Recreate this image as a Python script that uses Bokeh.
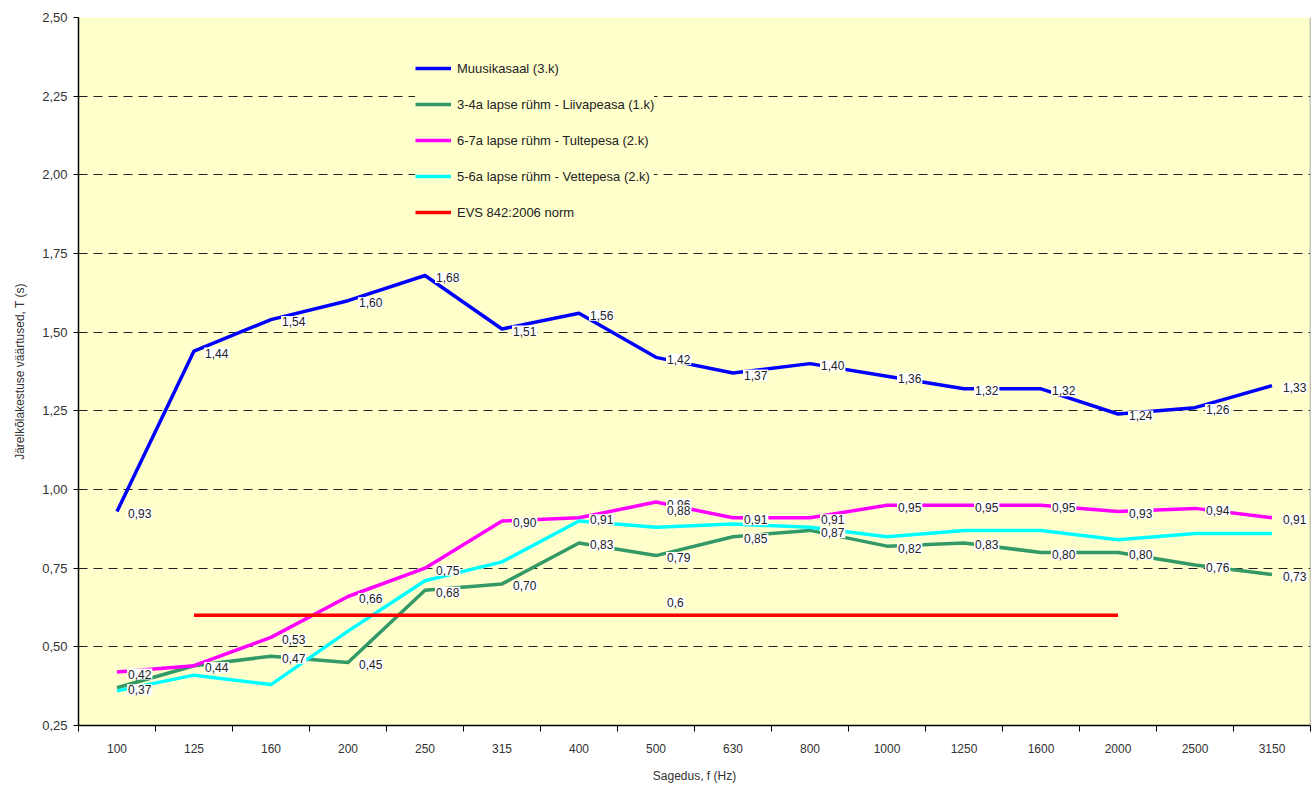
from bokeh.plotting import figure
from bokeh.models import (ColumnDataSource, FixedTicker, Legend,
                          LegendItem, Span, Range1d)
from bokeh.core.properties import value
from bokeh.embed import file_html
from bokeh.resources import INLINE

# ---------------- data ----------------
freqs = ["100", "125", "160", "200", "250", "315", "400", "500", "630", "800",
         "1000", "1250", "1600", "2000", "2500", "3150"]
muusikasaal = [0.93, 1.44, 1.54, 1.60, 1.68, 1.51, 1.56, 1.42, 1.37, 1.40,
               1.36, 1.32, 1.32, 1.24, 1.26, 1.33]
liivapeasa = [0.37, 0.44, 0.47, 0.45, 0.68, 0.70, 0.83, 0.79, 0.85, 0.87,
              0.82, 0.83, 0.80, 0.80, 0.76, 0.73]
tultepesa = [0.42, 0.44, 0.53, 0.66, 0.75, 0.90, 0.91, 0.96, 0.91, 0.91,
             0.95, 0.95, 0.95, 0.93, 0.94, 0.91]
vettepesa = [0.36, 0.41, 0.38, 0.55, 0.71, 0.77, 0.90, 0.88, 0.89, 0.88,
             0.85, 0.87, 0.87, 0.84, 0.86, 0.86]
vettepesa_labelled = ["500"]
norm_value = 0.6
norm_freqs = ["125", "2000"]
norm_label_freq = "500"
y_ticks = [0.25, 0.50, 0.75, 1.00, 1.25, 1.50, 1.75, 2.00, 2.25, 2.50]

series_names = ["Muusikasaal (3.k)", "3-4a lapse rühm - Liivapeasa (1.k)",
                "6-7a lapse rühm - Tultepesa (2.k)", "5-6a lapse rühm - Vettepesa (2.k)",
                "EVS 842:2006 norm"]
colors = ["#0000FF", "#339966", "#FF00FF", "#00FFFF", "#FF0000"]

FONT = "Liberation Sans"
BG = "#FFFFCC"


def fmt(v, nd=2):
    return f"{v:.{nd}f}".replace(".", ",")


def xpos(f):
    return freqs.index(f) + 0.5


xs = [xpos(f) for f in freqs]

p = figure(width=1311, height=785, output_backend="svg", toolbar_location=None,
           x_range=Range1d(0, len(freqs)), y_range=Range1d(0.25, 2.5),
           min_border_left=78, min_border_right=1, min_border_top=17,
           min_border_bottom=60)
p.background_fill_color = BG
p.border_fill_color = "white"
p.outline_line_color = None

# axes
p.xaxis.ticker = FixedTicker(ticks=xs, minor_ticks=list(range(len(freqs) + 1)))
p.xaxis.major_label_overrides = {x: f for x, f in zip(xs, freqs)}
p.xaxis.major_tick_out = 0
p.xaxis.major_tick_in = 0
p.xaxis.minor_tick_out = 6
p.xaxis.minor_tick_in = 0
p.xaxis.major_label_standoff = 12
p.xaxis.axis_label = "Sagedus, f (Hz)"
p.xaxis.axis_label_standoff = 13

p.yaxis.ticker = FixedTicker(ticks=y_ticks)
p.yaxis.major_label_overrides = {t: fmt(t) for t in y_ticks}
p.yaxis.major_tick_out = 5
p.yaxis.major_tick_in = 0
p.yaxis.minor_tick_out = 0
p.yaxis.minor_tick_in = 0
p.yaxis.major_label_standoff = 6
p.yaxis.axis_label = "Järelkõlakestuse väärtused, T (s)"
p.yaxis.axis_label_standoff = 12

for ax in (p.xaxis[0], p.yaxis[0]):
    ax.axis_line_color = "black"
    ax.axis_line_width = 1.5
    ax.major_tick_line_color = "black"
    ax.minor_tick_line_color = "black"
    ax.major_label_text_font = FONT
    ax.major_label_text_color = "#333333"
    ax.axis_label_text_font = FONT
    ax.axis_label_text_font_size = "12px"
    ax.axis_label_text_font_style = "normal"
    ax.axis_label_text_color = "#333333"
p.xaxis.major_label_text_font_size = "12px"
p.yaxis.major_label_text_font_size = "13px"

p.xgrid.visible = False
p.ygrid.ticker = FixedTicker(ticks=y_ticks[1:-1])
p.ygrid.grid_line_color = "#222222"
p.ygrid.grid_line_dash = "9 6"
p.ygrid.grid_line_width = 1

p.add_layout(Span(location=len(freqs), dimension="height", line_color="#8a8a8a",
                  line_width=1.5))

# lines
values = [muusikasaal, liivapeasa, tultepesa, vettepesa]
renderers = []
for vals, col in zip(values, colors[:4]):
    r = p.line(xs, vals, line_color=col, line_width=3.5, line_join="round")
    renderers.append(r)

rn = p.line([xpos(f) for f in norm_freqs], [norm_value] * len(norm_freqs),
            line_color=colors[4], line_width=3.5)
renderers.append(rn)

# data labels (text glyphs with white boxes)
txt_kw = dict(text_font=value(FONT), text_font_size=value("12px"),
              text_color="#222222", text_baseline="middle", text_align="left",
              background_fill_color="white", background_fill_alpha=1.0,
              padding=1)
for vals in (muusikasaal, liivapeasa, tultepesa):
    src = ColumnDataSource(dict(x=xs, y=vals, t=[fmt(v) for v in vals]))
    p.text(x="x", y="y", text="t", source=src, x_offset=10, y_offset=2, **txt_kw)

cy_x = [xpos(f) for f in vettepesa_labelled]
cy_y = [vettepesa[freqs.index(f)] for f in vettepesa_labelled]
src_c = ColumnDataSource(dict(x=cy_x, y=cy_y, t=[fmt(v) for v in cy_y]))
p.text(x="x", y="y", text="t", source=src_c, x_offset=10, y_offset=-17, **txt_kw)

src_n = ColumnDataSource(dict(x=[xpos(norm_label_freq)], y=[norm_value],
                              t=[fmt(norm_value, 1)]))
p.text(x="x", y="y", text="t", source=src_n, x_offset=10, y_offset=-13, **txt_kw)

# legend
legend = Legend(items=[LegendItem(label=n, renderers=[r])
                       for n, r in zip(series_names, renderers)],
                location=(337, 503), orientation="vertical",
                background_fill_color=BG, background_fill_alpha=1.0,
                border_line_color=None,
                padding=15, margin=0, spacing=16, label_height=20, glyph_height=20,
                glyph_width=36, label_standoff=6,
                label_text_font=FONT, label_text_font_size="13px",
                label_text_color="#222222")
p.add_layout(legend)

open("out.html", "w").write(file_html(p, INLINE))
